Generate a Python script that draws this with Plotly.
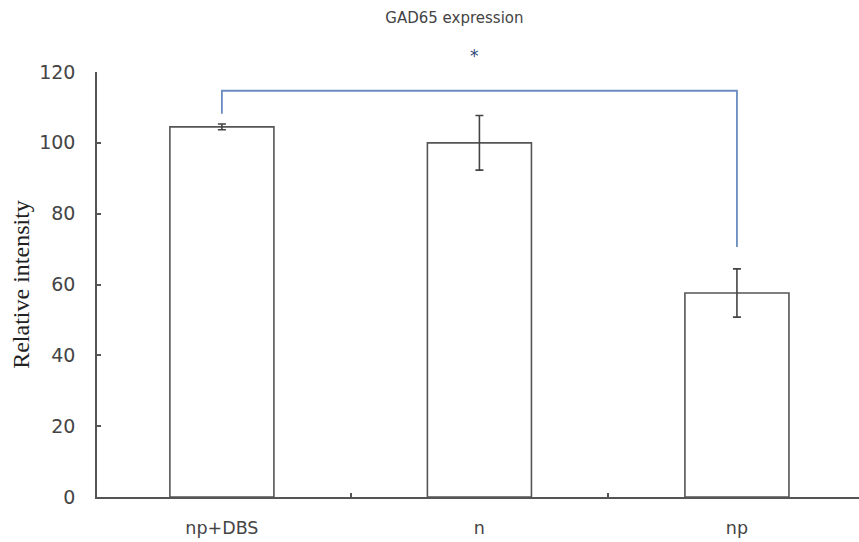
import plotly.graph_objects as go

categories = ["np+DBS", "n", "np"]
values = [104.5, 100.0, 57.6]
errors = [0.8, 7.7, 6.8]
y_ticks = [0, 20, 40, 60, 80, 100, 120]
bracket_y = [108.2, 114.7, 114.7, 70.6]
bracket_x = [0, 0, 2, 2]

fig = go.Figure()
fig.add_trace(go.Bar(
    x=[0, 1, 2], y=values, width=0.404,
    marker=dict(color="white", line=dict(color="#555555", width=1.6)),
    error_y=dict(type="data", array=errors, visible=True, color="#444444", thickness=1.6, width=4),
    showlegend=False,
))
fig.add_trace(go.Scatter(
    x=bracket_x, y=bracket_y, mode="lines",
    line=dict(color="#6a8cc0", width=1.8), showlegend=False, hoverinfo="skip",
))

fig.update_layout(
    width=859, height=542,
    margin=dict(l=97, r=0, t=72, b=45),
    paper_bgcolor="white", plot_bgcolor="white",
    font=dict(family="DejaVu Sans", color="#444444"),
    title=dict(text="GAD65 expression", x=0.529, xanchor="center", y=0.967, yanchor="middle",
               font=dict(size=15, color="#444444")),
    annotations=[dict(text="*", x=0.496, y=1.0, xref="paper", yref="paper", yanchor="bottom",
                      xanchor="center", yshift=4, showarrow=False,
                      font=dict(size=17, color="#2e4a7a"))],
)
fig.update_xaxes(
    range=[-0.485, 2.474], tickmode="array", tickvals=[0, 1, 2], ticktext=categories,
    showgrid=False, zeroline=False, showline=True, linecolor="#555555", linewidth=1.6,
    ticks="", tickfont=dict(size=17.5, color="#444444"), ticklabelstandoff=14,
)
fig.update_xaxes(minor=dict(tickmode="array", tickvals=[0.5, 1.5], ticks="inside", ticklen=4,
                            tickcolor="#555555", tickwidth=1.6, showgrid=False))
fig.update_yaxes(
    range=[0, 120], tickmode="array", tickvals=y_ticks,
    showgrid=False, zeroline=False, showline=True, linecolor="#555555", linewidth=1.6,
    ticks="inside", ticklen=4, tickcolor="#555555", tickwidth=1.6,
    tickfont=dict(size=19, color="#444444"), ticklabelstandoff=16,
    title=dict(text="Relative intensity", font=dict(family="Liberation Serif, Times New Roman", size=24, color="#222222"), standoff=3),
)

fig.write_html("out.html")
